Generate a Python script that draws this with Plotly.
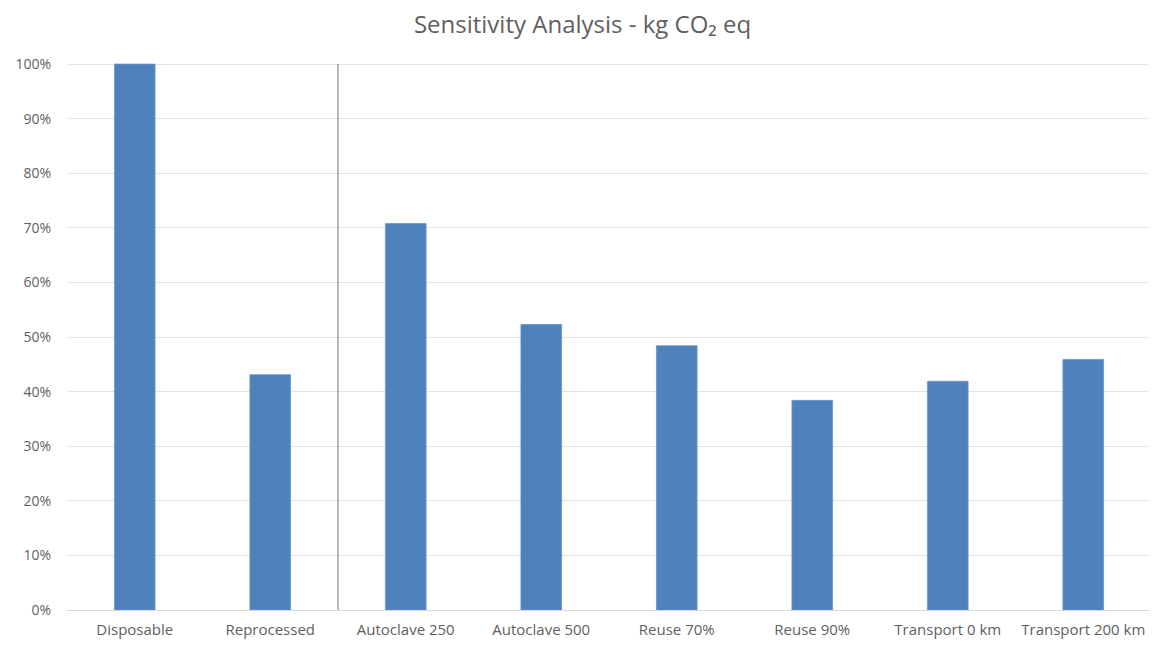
import plotly.graph_objects as go

categories = ["Disposable", "Reprocessed", "Autoclave 250", "Autoclave 500",
              "Reuse 70%", "Reuse 90%", "Transport 0 km", "Transport 200 km"]
values = [1.00, 0.431, 0.708, 0.523, 0.484, 0.384, 0.419, 0.459]
tick_vals = [i / 10 for i in range(11)]
tick_text = [f"{i*10}%" for i in range(11)]
separator_after = "Reprocessed"

font_family = "Open Sans, Noto Sans, sans-serif"
text_color = "#5F5F5F"

W, H = 1149, 639

fig = go.Figure()
fig.add_trace(go.Bar(
    x=categories, y=values,
    marker=dict(color="#4F81BD", line=dict(color="#6A93C8", width=0.8)),
    width=0.3,
))

sep_x = categories.index(separator_after) + 0.5
fig.add_shape(type="line", xref="x", yref="y", x0=sep_x, x1=sep_x, y0=0, y1=1,
              line=dict(color="#8C8C8C", width=1.2))

fig.update_layout(
    width=W, height=H,
    margin=dict(l=59, r=6, t=55, b=37),
    paper_bgcolor="white", plot_bgcolor="white",
    showlegend=False,
    title=dict(text="Sensitivity Analysis - kg CO₂ eq", x=0.5, xanchor="center",
               xref="container", yref="container", y=1 - 17 / H, yanchor="middle",
               font=dict(family=font_family, size=24, color=text_color)),
    font=dict(family=font_family, size=15, color=text_color),
    xaxis=dict(showgrid=False, showline=True, linecolor="#D9D9D9", linewidth=1,
               ticks="", ticklabelstandoff=6, tickfont=dict(size=15, color=text_color)),
    yaxis=dict(range=[0, 1.002], tickvals=tick_vals, ticktext=tick_text,
               showgrid=True, gridcolor="#E3E3E3", gridwidth=1, zeroline=False,
               showline=False, ticks="", ticklabelstandoff=15,
               tickfont=dict(size=14, color=text_color)),
)

fig.write_html("out.html")
